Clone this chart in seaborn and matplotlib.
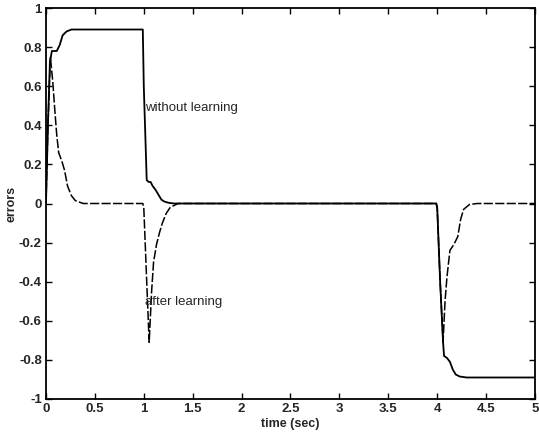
import numpy as np
import pandas as pd
import matplotlib.pyplot as plt
import seaborn as sns

# "without learning" error (solid)
t_without = [0, 0.02, 0.04, 0.06, 0.11, 0.14, 0.17, 0.21, 0.26, 0.5, 0.99,
             1.0, 1.03, 1.05, 1.07, 1.09, 1.12, 1.15, 1.18, 1.21, 1.25, 1.31, 1.5,
             2.0, 3.0, 3.99, 4.0, 4.03, 4.06, 4.07, 4.1, 4.13, 4.16, 4.19, 4.23,
             4.3, 4.6, 5.0]
e_without = [0, 0.4, 0.72, 0.78, 0.78, 0.81, 0.86, 0.88, 0.89, 0.89, 0.89,
             0.6, 0.12, 0.11, 0.11, 0.09, 0.07, 0.045, 0.02, 0.01, 0.004, 0, 0,
             0, 0, 0, -0.02, -0.4, -0.71, -0.78, -0.79, -0.81, -0.85, -0.875,
             -0.885, -0.89, -0.89, -0.89]

# "after learning" error (dashed)
t_after = [0, 0.02, 0.045, 0.07, 0.09, 0.11, 0.13, 0.16, 0.19, 0.22, 0.26,
           0.3, 0.38, 0.5, 0.99, 1.0, 1.03, 1.055, 1.08, 1.1, 1.13, 1.16, 1.19,
           1.23, 1.27, 1.35, 1.5, 3.99, 4.0, 4.03, 4.06, 4.08, 4.1, 4.13, 4.17,
           4.21, 4.24, 4.27, 4.33, 4.41, 5.0]
e_after = [0, 0.4, 0.75, 0.62, 0.48, 0.35, 0.26, 0.22, 0.17, 0.09, 0.04,
           0.015, 0, 0, 0, -0.02, -0.4, -0.71, -0.45, -0.3, -0.21, -0.15, -0.1,
           -0.05, -0.02, 0, 0, 0, -0.02, -0.4, -0.71, -0.5, -0.375, -0.24, -0.21,
           -0.17, -0.08, -0.03, -0.005, 0, 0]

x_ticks = np.arange(0, 5.01, 0.5)
y_ticks = np.arange(-1, 1.01, 0.2)
x_labels = ["0", "0.5", "1", "1.5", "2", "2.5", "3", "3.5", "4", "4.5", "5"]
y_labels = ["-1", "-0.8", "-0.6", "-0.4", "-0.2", "0", "0.2", "0.4", "0.6", "0.8", "1"]

sns.set_theme(style="white")
plt.rcParams['font.family'] = ['Liberation Sans', 'DejaVu Sans']

fig = plt.figure(figsize=(5.39, 4.4), dpi=100)
ax = fig.add_axes([0.0853, 0.0932, 0.9073, 0.8886])

df_without = pd.DataFrame({"t": t_without, "e": e_without})
df_after = pd.DataFrame({"t": t_after, "e": e_after})

sns.lineplot(data=df_without, x="t", y="e", ax=ax, color="black",
             linewidth=1.3, estimator=None, sort=False)
sns.lineplot(data=df_after, x="t", y="e", ax=ax, color="black",
             linewidth=1.1, estimator=None, sort=False, linestyle=(0, (6, 1.5)))

ax.set_xlim(0, 5)
ax.set_ylim(-1, 1)
ax.set_xticks(x_ticks)
ax.set_xticklabels(x_labels, fontweight="bold", fontsize=9.5)
ax.set_yticks(y_ticks)
ax.set_yticklabels(y_labels, fontweight="bold", fontsize=9.5)
ax.tick_params(direction="in", length=4, width=1, top=True, right=True,
               bottom=True, left=True, color="black", pad=3)
for s in ax.spines.values():
    s.set_color("black")
    s.set_linewidth(1.3)

ax.set_xlabel("time (sec)", fontweight="bold", fontsize=9, labelpad=2)
ax.set_ylabel("errors", fontweight="bold", fontsize=9, labelpad=1)

ax.text(1.01, 0.49, "without learning", fontsize=9.5, va="center", ha="left")
ax.text(1.01, -0.505, "after learning", fontsize=9.5, va="center", ha="left")

fig.savefig("out.png", dpi=100)
